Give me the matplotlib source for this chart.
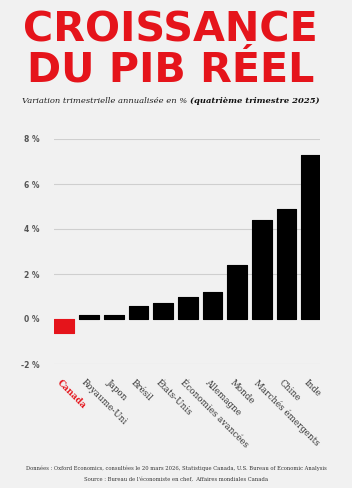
import matplotlib
matplotlib.use("Agg")
import matplotlib.pyplot as plt
import numpy as np

categories = ["Canada", "Royaume-Uni", "Japon", "Brésil", "États-Unis",
              "Économies avancées", "Allemagne", "Monde", "Marchés émergents",
              "Chine", "Inde"]
values = [-0.6, 0.2, 0.2, 0.6, 0.7, 1.0, 1.2, 2.4, 4.4, 4.9, 7.3]
yticks = [-2, 0, 2, 4, 6, 8]
ytick_labels = ["-2 %", "0 %", "2 %", "4 %", "6 %", "8 %"]
title_lines = ["CROISSANCE", "DU PIB RÉEL"]

BG = "#f1f1f1"
RED = "#e5141b"

fig = plt.figure(figsize=(3.52, 4.88), dpi=100, facecolor=BG)
ax = fig.add_axes([53.5/352, 1-364/488, (320-53.5)/352, (364-139)/488])
ax.set_facecolor(BG)

x = list(range(len(categories)))
colors = [RED if v < 0 else "#000000" for v in values]
ax.bar(x, values, width=0.8, color=colors, edgecolor=colors, linewidth=0.8,
       joinstyle="round", zorder=3)

for t in yticks:
    if t != 0:
        ax.axhline(t, color="#cfcfcf", linewidth=0.8, zorder=1)

ax.set_xlim(-0.44, 10.36)
ax.set_ylim(-2, 8)
ax.set_yticks(yticks)
ax.set_yticklabels(ytick_labels, fontsize=5.5, fontweight="bold", color="#555555",
                   family="DejaVu Sans")
ax.tick_params(axis="y", length=0, pad=10)
ax.set_xticks([])
for s in ax.spines.values():
    s.set_visible(False)

for xi, cat in zip(x, categories):
    ax.annotate(cat, xy=(xi, -2), xycoords="data", xytext=(-2, -10),
                textcoords="offset points", rotation=-45, rotation_mode="anchor",
                ha="left", va="top", fontsize=6.3, family="DejaVu Serif",
                color=RED if cat == "Canada" else "#333333",
                fontweight="bold" if cat == "Canada" else "normal")

r = fig.canvas.get_renderer()
W = fig.bbox.width
H = fig.bbox.height

# Title as one two-line text, fitted to span x = 23..318 px
title_y = 85
title = fig.text(170.5/W, 1-title_y/H, "\n".join(title_lines), ha="center",
                 va="baseline", multialignment="center", fontsize=30,
                 fontweight="bold", family="DejaVu Sans", color=RED,
                 linespacing=1.0)
bb = title.get_window_extent(renderer=r)
title.set_fontsize(30 * (318-23) / bb.width)

# Align the top of the drawn title glyphs with y = 12 px
fig.canvas.draw()
img = np.asarray(fig.canvas.buffer_rgba())[:120, :, :3].astype(int)
redmask = (img[:, :, 0] > 180) & (img[:, :, 1] < 120) & (img[:, :, 2] < 120)
rows = np.where(redmask.any(axis=1))[0]
if len(rows):
    shift = rows[0] - 12
    title.set_y(1 - (title_y - shift)/H)

# Subtitle with bold part
t1 = fig.text(22/W, 1-103/H, "Variation trimestrielle annualisée en % ",
              ha="left", va="baseline", fontsize=6, style="italic",
              family="DejaVu Serif", color="#222222")
bb = t1.get_window_extent(renderer=r)
fig.text(bb.x1/W, 1-103/H, "(quatrième trimestre 2025)",
         ha="left", va="baseline", fontsize=6, style="italic", fontweight="bold",
         family="DejaVu Serif", color="#111111")

fig.text(0.5, 1-470/H,
         "Données : Oxford Economics, consultées le 20 mars 2026, Statistique Canada, U.S. Bureau of Economic Analysis",
         ha="center", va="baseline", fontsize=3.8, family="DejaVu Serif", color="#333333")
fig.text(0.5, 1-481/H,
         "Source : Bureau de l'économiste en chef,  Affaires mondiales Canada",
         ha="center", va="baseline", fontsize=3.8, family="DejaVu Serif", color="#333333")

fig.savefig("out.png", dpi=100, facecolor=BG)
